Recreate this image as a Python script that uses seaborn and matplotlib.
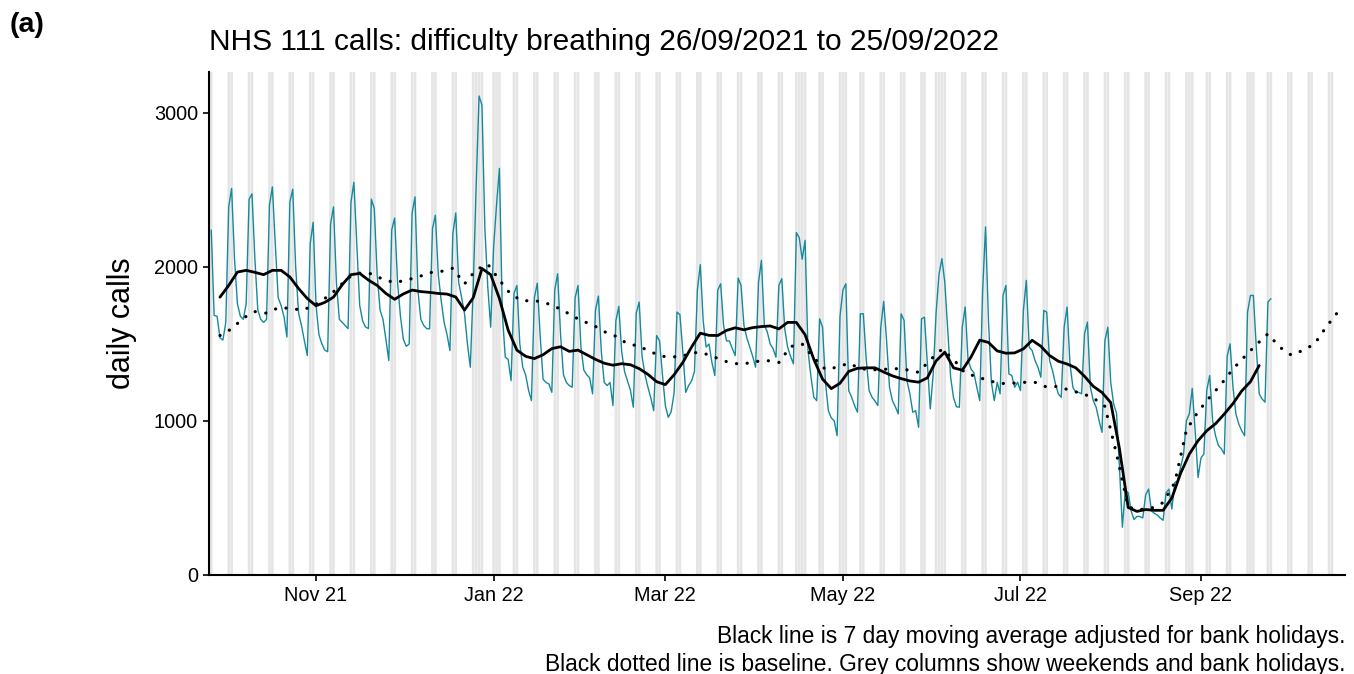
import matplotlib
matplotlib.use("Agg")
import matplotlib.pyplot as plt
import matplotlib.dates as mdates
import seaborn as sns
import pandas as pd

# daily NHS 111 calls, first value is Sun 26/09/2021, then one row per week (Mon..Sun)
start_date = "2021-09-26"
daily_calls = [2240,
    1685, 1680, 1540, 1525, 1640, 2390, 2510,
    2050, 1760, 1680, 1660, 1760, 2440, 2475,
    2050, 1720, 1660, 1640, 1660, 2400, 2520,
    2150, 1800, 1750, 1676, 1545, 2420, 2505,
    2000, 1700, 1620, 1520, 1425, 2150, 2290,
    1750, 1560, 1500, 1460, 1450, 2280, 2390,
    1900, 1660, 1640, 1620, 1600, 2420, 2550,
    2150, 1750, 1650, 1610, 1600, 2440, 2380,
    1950, 1720, 1660, 1530, 1392, 2240, 2318,
    1900, 1680, 1530, 1485, 1500, 2350, 2455,
    1848, 1660, 1620, 1600, 1598, 2250, 2336,
    1950, 1780, 1640, 1560, 1457, 2216, 2351,
    1900, 1804, 1698, 1503, 1349, 1869, 2520,
    3110, 3051, 2250, 1870, 1609, 2129, 2400,
    2640, 1696, 1414, 1400, 1262, 1828, 1880,
    1500, 1350, 1300, 1200, 1132, 1800, 1895,
    1550, 1270, 1250, 1240, 1186, 1850, 1956,
    1560, 1300, 1250, 1230, 1219, 1800, 1880,
    1480, 1330, 1300, 1280, 1176, 1720, 1811,
    1450, 1250, 1230, 1250, 1100, 1650, 1744,
    1450, 1320, 1260, 1200, 1089, 1700, 1772,
    1420, 1300, 1220, 1150, 1067, 1555, 1520,
    1300, 1100, 1024, 1060, 1180, 1707, 1690,
    1450, 1186, 1230, 1260, 1320, 1850, 2015,
    1650, 1480, 1500, 1380, 1295, 1850, 1891,
    1620, 1520, 1520, 1470, 1425, 1928, 1880,
    1620, 1540, 1480, 1420, 1349, 1900, 2043,
    1620, 1580, 1500, 1470, 1414, 1880, 1924,
    1600, 1480, 1420, 1371, 2223, 2190, 2050,
    2173, 1457, 1290, 1154, 1132, 1663, 1609,
    1250, 1067, 1020, 1002, 904, 1680, 1850,
    1891, 1197, 1154, 1100, 1057, 1696, 1696,
    1400, 1197, 1154, 1130, 1100, 1605, 1776,
    1522, 1219, 1132, 1093, 1046, 1696, 1653,
    1262, 1176, 1057, 1067, 959, 1663, 1674,
    1371, 1078, 1300, 1700, 1950, 2054, 1900,
    1588, 1284, 1150, 1093, 1089, 1609, 1740,
    1392, 1338, 1312, 1219, 1132, 1848, 2260,
    1650, 1251, 1132, 1251, 1176, 1815, 1880,
    1306, 1295, 1219, 1251, 1197, 1718, 1913,
    1479, 1457, 1392, 1349, 1284, 1718, 1707,
    1392, 1327, 1241, 1176, 1154, 1609, 1740,
    1371, 1219, 1186, 1186, 1176, 1566, 1642,
    1219, 1132, 1089, 1002, 926, 1522, 1609,
    1250, 1110, 1050, 700, 310, 547, 535,
    416, 360, 380, 380, 370, 520, 558,
    416, 400, 390, 370, 355, 535, 557,
    428, 600, 612, 700, 780, 1002, 1046,
    1212, 937, 633, 760, 785, 1200, 1295,
    1002, 904, 840, 820, 785, 1420, 1501,
    1219, 1046, 980, 937, 904, 1707, 1815,
    1815, 1479, 1176, 1143, 1122, 1772, 1794,
]

# 7 day moving average (bank holiday adjusted), read every 3 days from 29/09/2021
ma_start = "2021-09-29"
ma_calls = [
    1804, 1880, 1967, 1978, 1965, 1950, 1978, 1978, 1935, 1860,
    1795, 1748, 1770, 1804, 1885, 1950, 1958, 1915, 1880, 1828,
    1790, 1825, 1850, 1840, 1835, 1828, 1824, 1805, 1720, 1800,
    1990, 1950, 1795, 1590, 1460, 1420, 1405, 1430, 1470, 1482,
    1452, 1460, 1430, 1400, 1375, 1362, 1372, 1365, 1340, 1303,
    1255, 1236, 1300, 1380, 1480, 1570, 1556, 1555, 1588, 1605,
    1592, 1606, 1613, 1617, 1598, 1640, 1640, 1560, 1400, 1272,
    1210, 1245, 1322, 1342, 1345, 1345, 1318, 1293, 1275, 1260,
    1252, 1280, 1390, 1447, 1345, 1330, 1415, 1525, 1510, 1455,
    1440, 1442, 1468, 1524, 1485, 1425, 1388, 1370, 1345, 1290,
    1225, 1185, 1120, 820, 438, 413, 425, 420, 420, 500,
    660, 785, 872, 937, 982, 1045, 1113, 1195, 1255, 1360,
]

# baseline, read every 4 days from 29/09/2021
baseline_start = "2021-09-29"
baseline_calls = [
    1555, 1598, 1668, 1710, 1700, 1735, 1732, 1720, 1745, 1795,
    1854, 1930, 1960, 1956, 1920, 1898, 1915, 1934, 1963, 1971,
    1992, 1890, 1982, 2018, 1915, 1820, 1780, 1782, 1766, 1735,
    1695, 1652, 1625, 1580, 1550, 1501, 1486, 1448, 1420, 1416,
    1428, 1446, 1430, 1398, 1373, 1371, 1386, 1392, 1380, 1483,
    1500, 1410, 1335, 1349, 1375, 1340, 1332, 1335, 1340, 1332,
    1316, 1397, 1465, 1400, 1310, 1288, 1262, 1243, 1245, 1251,
    1251, 1220, 1225, 1198, 1180, 1150, 1095, 785, 440, 425,
    434, 470, 600, 941, 1060, 1154, 1240, 1338, 1418, 1495,
    1566, 1480, 1428, 1458, 1500, 1610, 1707,
]

bank_holidays = ["2021-12-27", "2021-12-28", "2022-01-03", "2022-04-15", "2022-04-18",
                 "2022-05-02", "2022-06-02", "2022-06-03", "2022-08-29", "2022-09-19"]

y_ticks = [0, 1000, 2000, 3000]
y_top = 3266

daily = pd.DataFrame({"date": pd.date_range(start_date, periods=len(daily_calls), freq="D"),
                      "calls": daily_calls})
ma = pd.DataFrame({"date": pd.date_range(ma_start, periods=len(ma_calls), freq="3D"),
                   "calls": ma_calls})
base = pd.DataFrame({"date": pd.date_range(baseline_start, periods=len(baseline_calls), freq="4D"),
                     "calls": baseline_calls})

# grey columns: weekends and bank holidays over the whole x range
all_days = pd.date_range("2021-09-25", "2022-10-21", freq="D")
grey_days = all_days[(all_days.dayofweek >= 5) | all_days.isin(pd.to_datetime(bank_holidays))]

sns.set_theme(style="white")
plt.rcParams["font.family"] = ["Liberation Sans", "DejaVu Sans"]
plt.rcParams["text.color"] = "black"

fig = plt.figure(figsize=(13.54, 6.74), dpi=100)
ax = fig.add_axes([0.1544, 0.1469, 0.839, 0.7463])

bars = ax.bar(grey_days, [y_top] * len(grey_days), width=0.9, color="#e5e5e5",
              edgecolor="none", linewidth=0, zorder=0)
for b in bars:
    b.set_snap(False)
sns.lineplot(data=daily, x="date", y="calls", ax=ax, color="#17899b", linewidth=1.0, zorder=2)
sns.lineplot(data=base, x="date", y="calls", ax=ax, color="black", linewidth=2.3,
             linestyle=(0, (0.05, 3.3)), dash_capstyle="round", zorder=3)
sns.lineplot(data=ma, x="date", y="calls", ax=ax, color="black", linewidth=2.0, zorder=4)

ax.set_xlim(pd.Timestamp("2021-09-25 06:00"), pd.Timestamp("2022-10-20 12:00"))
ax.set_ylim(0, y_top)
ax.set_yticks(y_ticks)
ax.xaxis.set_major_locator(mdates.MonthLocator(bymonth=[1, 3, 5, 7, 9, 11]))
ax.xaxis.set_major_formatter(mdates.DateFormatter("%b %y"))
ax.set_xlabel("")
ax.set_ylabel("")

for side in ["top", "right"]:
    ax.spines[side].set_visible(False)
for side in ["left", "bottom"]:
    ax.spines[side].set_color("black")
    ax.spines[side].set_linewidth(1.5)
ax.tick_params(axis="both", which="major", length=4.5, width=1.2, color="black",
               labelsize=14.3, labelcolor="black", pad=3.5, left=True, bottom=True)

fig.text(0.0074, 0.963, "(a)", fontsize=20.5, fontweight="bold", va="center")
fig.text(0.1544, 0.9377, "NHS 111 calls: difficulty breathing 26/09/2021 to 25/09/2022",
         fontsize=21.5, va="center", ha="left")
fig.text(0.0901, 0.5208, "daily calls", rotation=90, fontsize=22, va="center", ha="center")
fig.text(0.9934, 0.0549, "Black line is 7 day moving average adjusted for bank holidays.",
         fontsize=16.4, ha="right", va="center")
fig.text(0.9934, 0.0148, "Black dotted line is baseline. Grey columns show weekends and bank holidays.",
         fontsize=16.4, ha="right", va="center")

fig.savefig("out.png", dpi=100)
